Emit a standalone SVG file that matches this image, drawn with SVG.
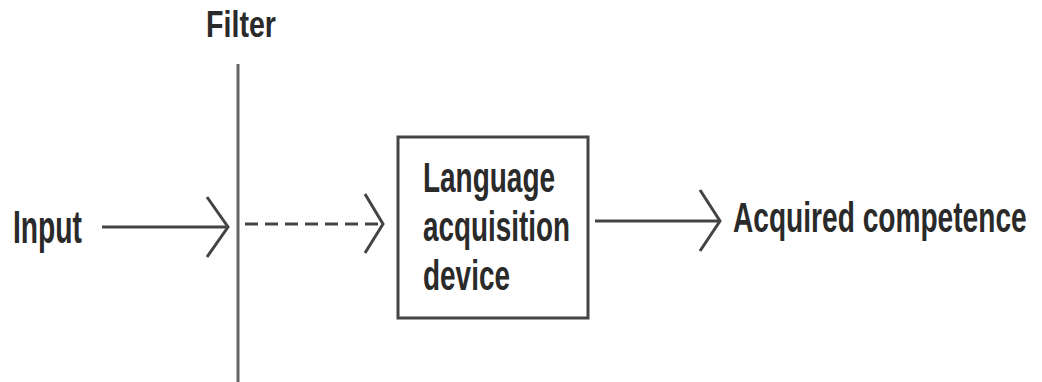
<svg xmlns="http://www.w3.org/2000/svg" width="1042" height="382" viewBox="0 0 1042 382">
<style>
text { font-family: "Liberation Sans Narrow", "Liberation Sans", "DejaVu Sans Condensed", sans-serif; font-weight: bold; fill: #2a2a2a; }
.ln { stroke: #444; stroke-width: 3; fill: none; }
.hd { stroke: #444; stroke-width: 3; fill: none; stroke-linejoin: miter; }
</style>
<rect width="1042" height="382" fill="#fff"/>
<g id="filter">
  <line x1="238" y1="64" x2="238" y2="382" stroke="#666" stroke-width="3"/>
  <text x="206" y="37" font-size="37" textLength="70" lengthAdjust="spacingAndGlyphs">Filter</text>
</g>
<g id="input">
  <text x="13" y="243" font-size="46" textLength="69" lengthAdjust="spacingAndGlyphs">Input</text>
</g>
<g id="lad">
  <rect x="398" y="137" width="190" height="181" fill="#fff" stroke="#444" stroke-width="3"/>
  <text x="423" y="192" font-size="43" textLength="132" lengthAdjust="spacingAndGlyphs">Language</text>
  <text x="423" y="241" font-size="43" textLength="147" lengthAdjust="spacingAndGlyphs">acquisition</text>
  <text x="423" y="290" font-size="43" textLength="87" lengthAdjust="spacingAndGlyphs">device</text>
</g>
<g id="output">
  <text transform="translate(733 232) scale(0.66 1)" x="0" y="0" font-size="43" textLength="445" lengthAdjust="spacingAndGlyphs">Acquired competence</text>
</g>
<g id="connectors">
  <line class="ln" x1="102" y1="227" x2="227" y2="227"/>
  <polyline class="hd" points="207,197 228,227 207,257"/>
  <line class="ln" x1="245" y1="224" x2="382" y2="224" stroke-dasharray="13 7"/>
  <polyline class="hd" points="365,194 383,224 365,253"/>
  <line class="ln" x1="595" y1="221" x2="719" y2="221"/>
  <polyline class="hd" points="700,190 720,221 700,251"/>
</g>
</svg>
